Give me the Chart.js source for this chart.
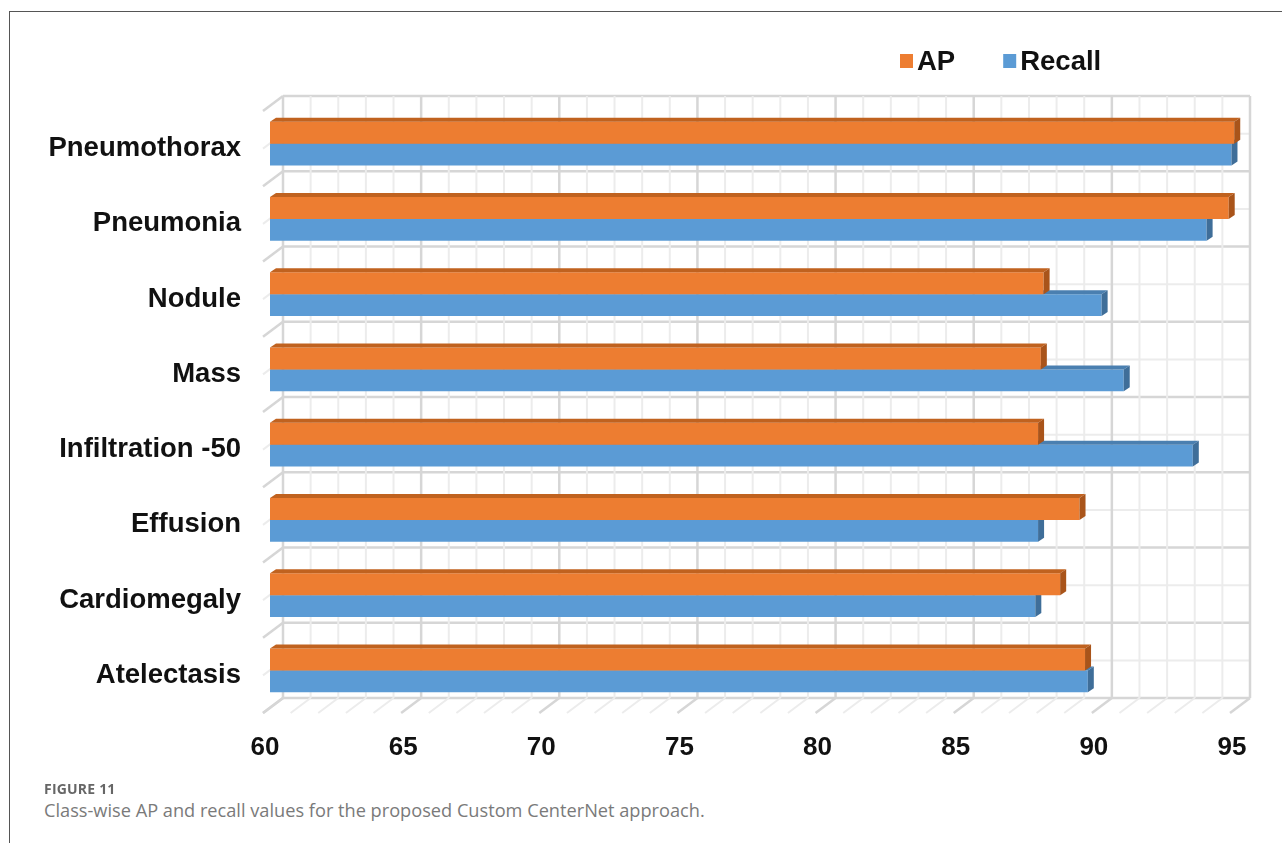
<!DOCTYPE html>
<html>
<head>
<meta charset="utf-8">
<script src="https://cdn.jsdelivr.net/npm/chart.js@4"></script>
<style>
  html, body { margin: 0; padding: 0; background: #fff; }
  body { width: 1282px; height: 843px; position: relative; overflow: hidden; }
  .frame {
    position: absolute; left: 9px; top: 11px; right: -2px; bottom: -2px;
    border-top: 1.5px solid #555; border-left: 1.5px solid #555;
  }
  #wrap { position: absolute; left: 0; top: 0; width: 1282px; height: 780px; }
  .fig-num {
    position: absolute; left: 44px; top: 779px;
    font: bold 14px "Open Sans", sans-serif; color: #666; letter-spacing: 0.2px;
  }
  .fig-cap {
    position: absolute; left: 44px; top: 798px;
    font: 18.2px "Open Sans", sans-serif; color: #7a7a7a;
  }
</style>
</head>
<body>
<div class="frame"></div>
<div id="wrap"><canvas id="bar-Chart"></canvas></div>
<div class="fig-num">FIGURE 11</div>
<div class="fig-cap">Class-wise AP and recall values for the proposed Custom CenterNet approach.</div>
<script>
const categories = ["Pneumothorax", "Pneumonia", "Nodule", "Mass", "Infiltration -50", "Effusion", "Cardiomegaly", "Atelectasis"];
const apValues = [94.9, 94.7, 88.0, 87.9, 87.8, 89.3, 88.6, 89.5];
const recallValues = [94.8, 93.9, 90.1, 90.9, 93.4, 87.8, 87.7, 89.6];
const xTicks = [60, 65, 70, 75, 80, 85, 90, 95];

// 3d look: bar depth, back wall and front edge offsets (px)
const BAR_D = { x: 6, y: -4 };
const BACK = { x: 13, y: -10 };
const FRONT = { x: -7, y: 5 };

const faceColors = [
  { top: "#C0621F", side: "#A9541A" }, // AP
  { top: "#4A7FB0", side: "#3F6E99" }, // Recall
];

function line(ctx, x1, y1, x2, y2, color, w) {
  ctx.strokeStyle = color;
  ctx.lineWidth = w;
  ctx.beginPath();
  ctx.moveTo(x1, y1);
  ctx.lineTo(x2, y2);
  ctx.stroke();
}

const wallsPlugin = {
  id: "walls",
  beforeDatasetsDraw(chart) {
    const { ctx, chartArea: a, scales } = chart;
    const xs = scales.x, ys = scales.y;
    const major = "#D6D6D6", minor = "#ECECEC";
    ctx.save();
    // horizontal lines: category boundaries and mid lines
    const step = ys.getPixelForValue(1) - ys.getPixelForValue(0);
    const rows = [];
    for (let i = 0; i < categories.length; i++) {
      const c = ys.getPixelForValue(i);
      rows.push({ y: c - step / 2, major: true });
      rows.push({ y: c, major: false });
    }
    rows.push({ y: a.bottom, major: true });
    const x0 = xs.getPixelForValue(60), x1 = xs.getPixelForValue(95);
    rows.forEach(r => {
      const col = r.major ? major : minor, w = r.major ? 2.5 : 2;
      line(ctx, x0 + BACK.x, r.y + BACK.y, x1 + BACK.x, r.y + BACK.y, col, w);
      // left side wall
      line(ctx, x0 + FRONT.x, r.y + FRONT.y, x0 + BACK.x, r.y + BACK.y, col, w);
    });
    // vertical lines on back wall + floor diagonals
    for (let v = 60; v <= 95; v++) {
      const px = xs.getPixelForValue(v);
      const isMajor = v % 5 === 0;
      const col = isMajor ? major : minor, w = isMajor ? 2.5 : 2;
      line(ctx, px + BACK.x, a.top + BACK.y, px + BACK.x, a.bottom + BACK.y, col, w);
      line(ctx, px + FRONT.x, a.bottom + FRONT.y, px + BACK.x, a.bottom + BACK.y, col, w);
    }
    ctx.restore();
  },
  afterDatasetDraw(chart, args) {
    const { ctx, chartArea } = chart;
    const fc = faceColors[args.index];
    ctx.save();
    args.meta.data.forEach(bar => {
      const p = bar.getProps(["x", "y", "base", "height"], true);
      const base = Math.max(p.base, chartArea.left);
      const top = p.y - p.height / 2, bottom = p.y + p.height / 2;
      ctx.fillStyle = fc.top;
      ctx.beginPath();
      ctx.moveTo(base, top);
      ctx.lineTo(p.x, top);
      ctx.lineTo(p.x + BAR_D.x, top + BAR_D.y);
      ctx.lineTo(base + BAR_D.x, top + BAR_D.y);
      ctx.closePath();
      ctx.fill();
      ctx.fillStyle = fc.side;
      ctx.beginPath();
      ctx.moveTo(p.x, top);
      ctx.lineTo(p.x + BAR_D.x, top + BAR_D.y);
      ctx.lineTo(p.x + BAR_D.x, bottom + BAR_D.y);
      ctx.lineTo(p.x, bottom);
      ctx.closePath();
      ctx.fill();
    });
    ctx.restore();
  },
  afterDraw(chart) {
    // legend
    const { ctx } = chart;
    ctx.save();
    ctx.font = "bold 27.5px 'Liberation Sans', Arial, sans-serif";
    ctx.textBaseline = "middle";
    let x = 900;
    const y = 61;
    chart.data.datasets.forEach((ds) => {
      ctx.fillStyle = ds.backgroundColor;
      ctx.fillRect(x, y - 7, 13, 14);
      ctx.fillStyle = "#111";
      ctx.fillText(ds.label, x + 17, y + 1);
      x += 17 + ctx.measureText(ds.label).width + 48;
    });
    ctx.restore();
  },
};

const ctx = document.getElementById("bar-Chart");
const barChart = new Chart(ctx, {
  type: "bar",
  data: {
    labels: categories,
    datasets: [
      { label: "AP", data: apValues, backgroundColor: "#ED7D31" },
      { label: "Recall", data: recallValues, backgroundColor: "#5B9BD5" },
    ],
  },
  options: {
    indexAxis: "y",
    responsive: true,
    maintainAspectRatio: false,
    animation: false,
    layout: { padding: { top: 106, right: 45, bottom: 8, left: 0 } },
    datasets: { bar: { categoryPercentage: 0.58, barPercentage: 1 } },
    plugins: {
      legend: { display: false },
      tooltip: { enabled: false },
    },
    scales: {
      x: {
        min: 60,
        max: 95,
        afterBuildTicks: (axis) => { axis.ticks = xTicks.map(v => ({ value: v })); },
        grid: { display: false, drawTicks: false },
        border: { display: false },
        ticks: {
          color: "#111",
          padding: 24,
          labelOffset: -5,
          font: { family: "'Liberation Sans', Arial, sans-serif", size: 26, weight: "bold" },
        },
        afterFit: (axis) => { axis.height = 64; },
      },
      y: {
        grid: { display: false, drawTicks: false },
        border: { display: false },
        ticks: {
          color: "#111",
          padding: 29,
          labelOffset: 5,
          font: { family: "'Liberation Sans', Arial, sans-serif", size: 27.5, weight: "bold" },
        },
        afterFit: (axis) => { axis.width = 270; },
      },
    },
  },
  plugins: [wallsPlugin],
});
</script>
</body>
</html>
